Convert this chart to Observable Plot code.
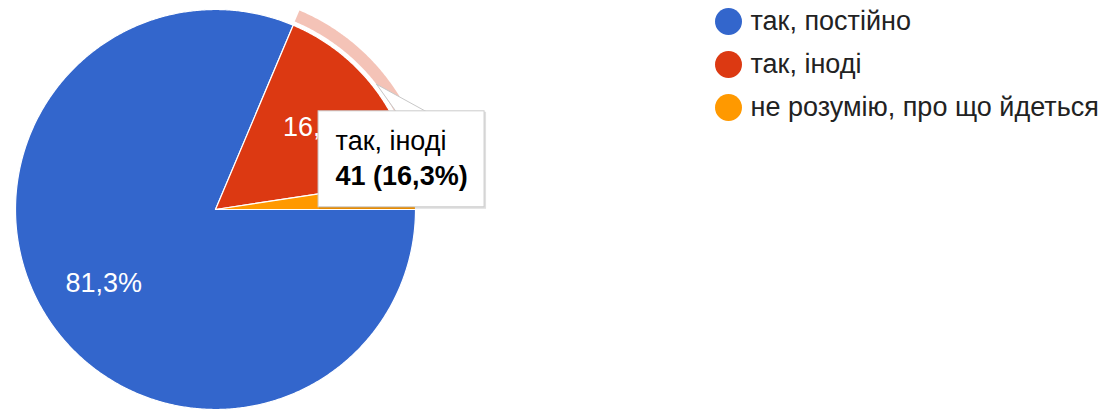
<!DOCTYPE html>
<html>
<head>
<meta charset="utf-8">
<script src="https://cdn.jsdelivr.net/npm/d3@7"></script>
<script src="https://cdn.jsdelivr.net/npm/@observablehq/plot@0.6"></script>
<style>
  html, body { margin: 0; padding: 0; background: #fff; }
  #chart { width: 1103px; height: 411px; }
</style>
</head>
<body>
<div id="chart"></div>
<script>
// ---- data ----
const categories = ["так, постійно", "так, іноді", "не розумію, про що йдеться"];
const counts = [205, 41, 6];
const colors = ["#3366cc", "#dc3912", "#ff9900"];
const highlighted = "так, іноді";

// ---- layout ----
const W = 1103, H = 411;
const cx = 215, cy = 209, R = 200;
const startDeg = 90;
const font = "Arial, 'Liberation Sans', sans-serif";
const fs = 27;

const total = d3.sum(counts);
const fmtPct = v => (v * 100).toFixed(1).replace(".", ",") + "%";
let acc = startDeg;
const slices = categories.map((c, i) => {
  const a0 = acc, a1 = acc + counts[i] / total * 360;
  acc = a1;
  return {cat: c, a0, a1, value: counts[i], share: counts[i] / total};
});
const pt = (a, r) => {
  const t = a * Math.PI / 180;
  return [cx + r * Math.sin(t), cy - r * Math.cos(t)];
};
const arcPts = (s, r, rev) => {
  const n = Math.max(2, Math.ceil((s.a1 - s.a0) / 0.4));
  const out = [];
  for (let k = 0; k <= n; k++) {
    const f = rev ? 1 - k / n : k / n;
    out.push(pt(s.a0 + (s.a1 - s.a0) * f, r));
  }
  return out;
};
const slicePts = slices.flatMap(s => [[cx, cy], ...arcPts(s, R, false), [cx, cy]]
  .map(([x, y]) => ({cat: s.cat, x, y})));

const hs = slices.find(s => s.cat === highlighted);
const ringPts = [...arcPts(hs, R + 4, false), ...arcPts(hs, R + 16, true)];
ringPts.push(ringPts[0]);
const ring = ringPts.map(([x, y]) => ({cat: hs.cat, x, y}));

const labels = slices.filter(s => s.share > 0.05).map(s => {
  const [x, y] = pt((s.a0 + s.a1) / 2, R * 0.67);
  return {x, y, text: fmtPct(s.share)};
});

// tooltip anchored at the highlighted slice's outer mid-point
const [tx, ty] = pt((hs.a0 + hs.a1) / 2, R + 4);
const box = {x1: tx - 58, x2: tx + 108, y1: ty + 27, y2: ty + 123};
const pointer = [[tx, ty], [tx + 20, box.y1 + 1], [tx + 51, box.y1 + 1], [tx, ty]].map(([x, y]) => ({x, y}));
const tipTitle = [{x: box.x1 + 17, y: box.y1 + 30, text: hs.cat}];
const tipValue = [{x: box.x1 + 17, y: box.y1 + 65, text: `${hs.value} (${fmtPct(hs.share)})`}];

const legendX = 728, legendY0 = 21, legendStep = 43;

const chart = Plot.plot({
  width: W, height: H,
  margin: 0,
  style: {fontFamily: font, background: "#fff"},
  x: {domain: [0, W], range: [0, W], axis: null},
  y: {domain: [0, H], range: [0, H], axis: null},
  color: {domain: categories, range: colors},
  marks: [
    Plot.line(ring, {x: "x", y: "y", z: "cat", fill: "cat", fillOpacity: 0.3, stroke: "none", curve: "linear"}),
    Plot.line(slicePts, {x: "x", y: "y", z: "cat", fill: "cat", stroke: "white", strokeWidth: 1.2, strokeLinejoin: "round", curve: "linear"}),
    Plot.text(labels, {x: "x", y: "y", text: "text", fill: "white", fontSize: fs, lineAnchor: "middle", textAnchor: "middle"}),
    // tooltip
    Plot.rect([box], {x1: d => d.x1 + 1, x2: d => d.x2 + 2, y1: d => d.y1 + 1, y2: d => d.y2 + 2, fill: "#000", fillOpacity: 0.12}),
    Plot.line(pointer, {x: "x", y: "y", fill: "white", stroke: "#c8c8c8", strokeWidth: 1, curve: "linear"}),
    Plot.rect([box], {x1: "x1", x2: "x2", y1: "y1", y2: "y2", fill: "white", stroke: "#cccccc", strokeWidth: 1}),
    Plot.text(tipTitle, {x: "x", y: "y", text: "text", fill: "#000", fontSize: fs, textAnchor: "start", lineAnchor: "middle"}),
    Plot.text(tipValue, {x: "x", y: "y", text: "text", fontWeight: "bold", fill: "#000", fontSize: fs, textAnchor: "start", lineAnchor: "middle"}),
    // legend
    Plot.dot(categories, {x: () => legendX, y: (d, i) => legendY0 + i * legendStep, r: 13.5, fill: d => d, stroke: null}),
    Plot.text(categories, {x: () => legendX + 22, y: (d, i) => legendY0 + i * legendStep, text: d => d, fill: "#222", fontSize: fs, textAnchor: "start", lineAnchor: "middle"})
  ]
});
document.getElementById("chart").appendChild(chart);
</script>
</body>
</html>
